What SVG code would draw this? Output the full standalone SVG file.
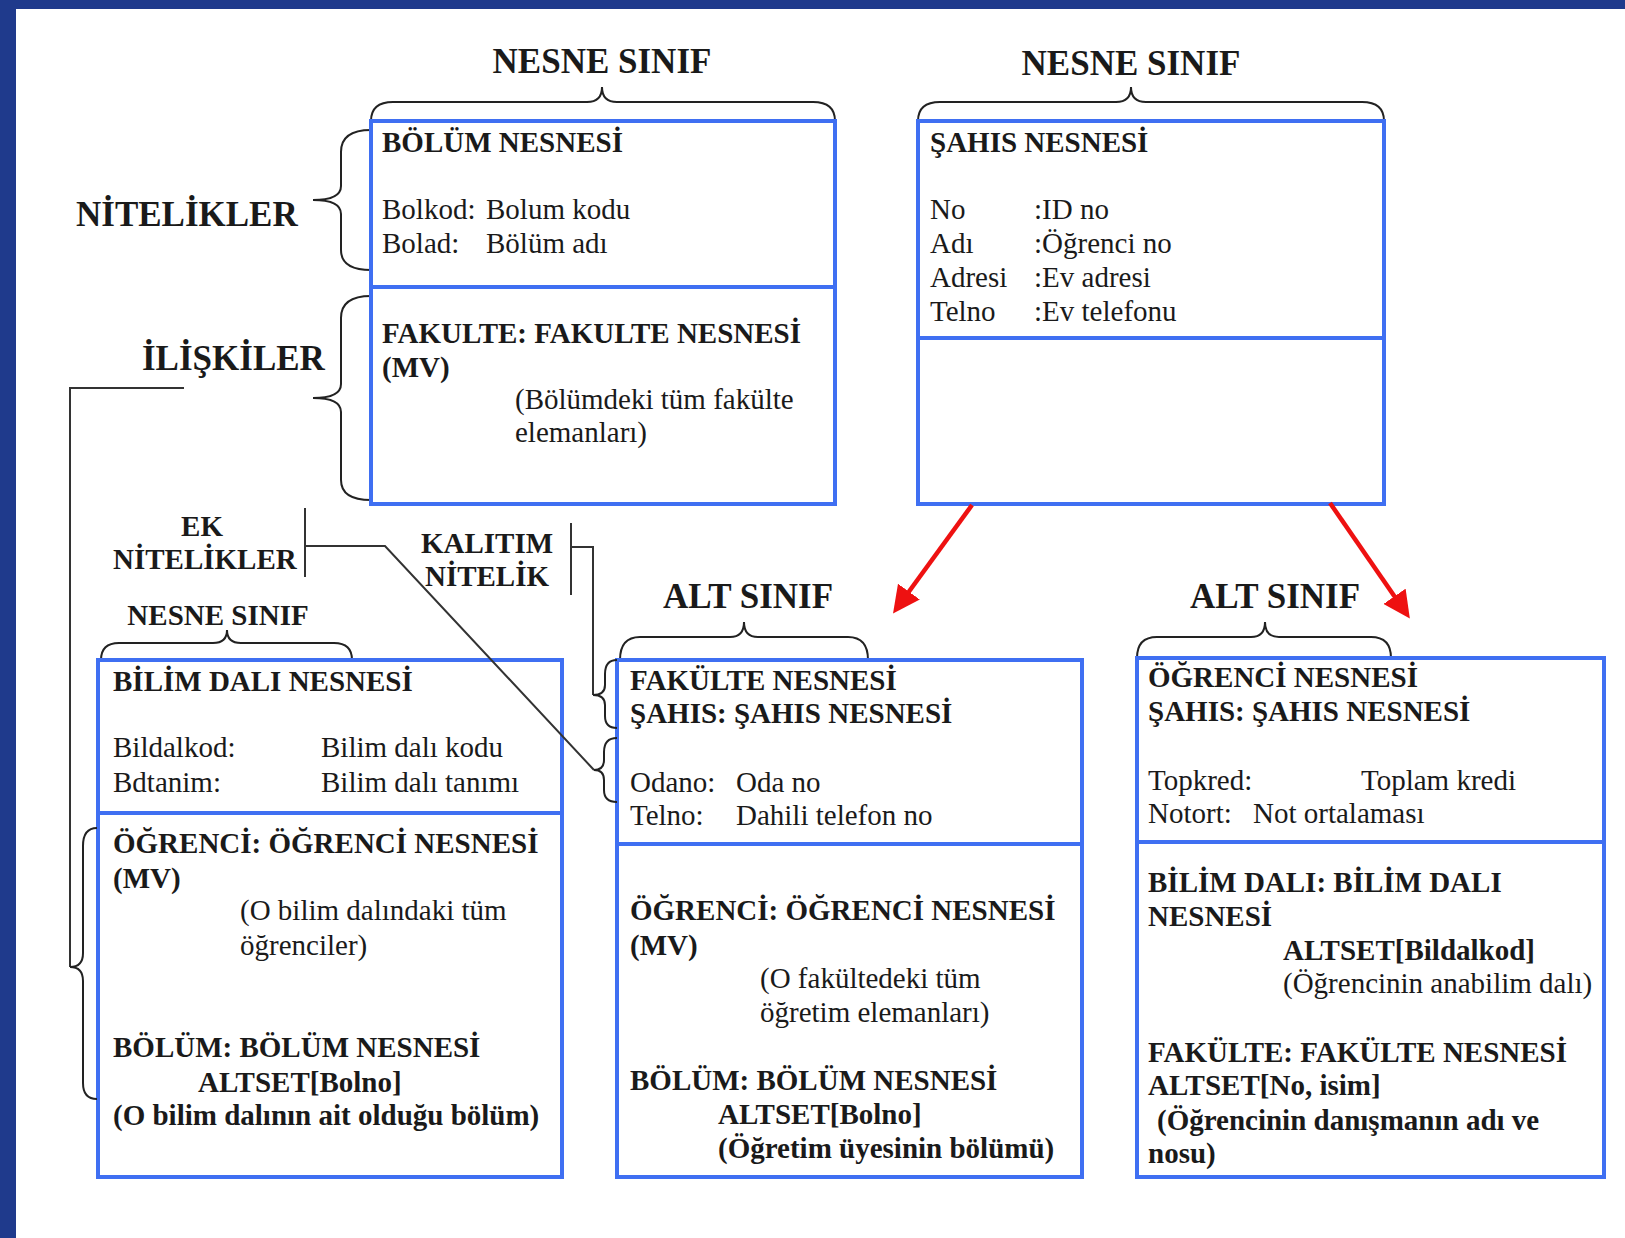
<svg xmlns="http://www.w3.org/2000/svg" width="1625" height="1238" viewBox="0 0 1625 1238">
<style>
text{font-family:"Liberation Serif","Times New Roman",serif;fill:#1a1a1a}
.b{font-size:29px;font-weight:bold}
.r{font-size:29px}
.t35{font-size:35px;font-weight:bold}
.t29{font-size:29px;font-weight:bold}
.box{fill:#fff;stroke:#3f6ff2;stroke-width:4}
.div{stroke:#3f6ff2;stroke-width:4}
.br{fill:none;stroke:#222;stroke-width:2}
.ln{fill:none;stroke:#333;stroke-width:2}
.red{fill:none;stroke:#ee1111;stroke-width:4.5}
</style>
<defs>
<marker id="ah" markerWidth="6" markerHeight="6" refX="4.5" refY="3" orient="auto" markerUnits="strokeWidth">
<path d="M0,0 L6,3 L0,6 z" fill="#ee1111"/>
</marker>
</defs>
<rect x="0" y="0" width="1625" height="1238" fill="#fff"/>
<rect x="0" y="0" width="1625" height="9" fill="#1f3a8c"/>
<rect x="0" y="0" width="16" height="1238" fill="#1f3a8c"/>

<g id="label-nesne-sinif-1">
<text class="t35" x="602" y="73" text-anchor="middle">NESNE SINIF</text>
<path class="br" d="M371,121 Q371,102 393,102 L587,102 Q602,102 602,87 Q602,102 617,102 L813,102 Q835,102 835,121"/>
</g>
<g id="label-nesne-sinif-2">
<text class="t35" x="1131" y="75" text-anchor="middle">NESNE SINIF</text>
<path class="br" d="M918,121 Q918,102 940,102 L1116,102 Q1131,102 1131,87 Q1131,102 1146,102 L1362,102 Q1384,102 1384,121"/>
</g>
<g id="label-nitelikler">
<text class="t35" x="76" y="226">NİTELİKLER</text>
<path class="br" d="M371,130 Q341,130 341,152 L341,186 Q341,200 313,200 Q341,200 341,214 L341,250 Q341,270 371,270"/>
</g>
<g id="label-iliskiler">
<text class="t35" x="142" y="370">İLİŞKİLER</text>
<path class="br" d="M371,296 Q341,296 341,318 L341,384 Q341,398 313,398 Q341,398 341,412 L341,480 Q341,500 371,500"/>
</g>
<g id="label-ek-nitelikler">
<text class="t29" x="202" y="536" text-anchor="middle">EK</text>
<text class="t29" x="113" y="569">NİTELİKLER</text>
</g>
<g id="label-kalitim-nitelik">
<text class="t29" x="487" y="553" text-anchor="middle">KALITIM</text>
<text class="t29" x="487" y="586" text-anchor="middle">NİTELİK</text>
</g>
<g id="label-nesne-sinif-3">
<text class="t29" x="218" y="625" text-anchor="middle">NESNE SINIF</text>
<path class="br" d="M101,660 Q101,643 119,643 L213,643 Q227,643 227,630 Q227,643 241,643 L334,643 Q352,643 352,660"/>
</g>
<g id="label-alt-sinif-1">
<text class="t35" x="748" y="608" text-anchor="middle">ALT SINIF</text>
<path class="br" d="M620,660 Q620,637 640,637 L730,637 Q744,637 744,622 Q744,637 758,637 L848,637 Q868,637 868,660"/>
</g>
<g id="label-alt-sinif-2">
<text class="t35" x="1275" y="608" text-anchor="middle">ALT SINIF</text>
<path class="br" d="M1137,658 Q1137,637 1157,637 L1251,637 Q1265,637 1265,622 Q1265,637 1279,637 L1371,637 Q1391,637 1391,658"/>
</g>

<g id="node-bolum">
<rect class="box" x="371" y="121" width="464" height="383"/>
<line class="div" x1="371" y1="287" x2="835" y2="287"/>
<text class="b" x="382" y="152">BÖLÜM NESNESİ</text>
<text class="r" x="382" y="219">Bolkod:</text><text class="r" x="486" y="219">Bolum kodu</text>
<text class="r" x="382" y="253">Bolad:</text><text class="r" x="486" y="253">Bölüm adı</text>
<text class="b" x="382" y="343">FAKULTE: FAKULTE NESNESİ</text>
<text class="b" x="382" y="377">(MV)</text>
<text class="r" x="515" y="409">(Bölümdeki tüm fakülte</text>
<text class="r" x="515" y="442">elemanları)</text>
</g>

<g id="node-sahis">
<rect class="box" x="918" y="121" width="466" height="383"/>
<line class="div" x1="918" y1="338" x2="1384" y2="338"/>
<text class="b" x="930" y="152">ŞAHIS NESNESİ</text>
<text class="r" x="930" y="219">No</text><text class="r" x="1034" y="219">:ID no</text>
<text class="r" x="930" y="253">Adı</text><text class="r" x="1034" y="253">:Öğrenci no</text>
<text class="r" x="930" y="287">Adresi</text><text class="r" x="1034" y="287">:Ev adresi</text>
<text class="r" x="930" y="321">Telno</text><text class="r" x="1034" y="321">:Ev telefonu</text>
</g>

<g id="node-bilim-dali">
<rect class="box" x="98" y="660" width="464" height="517"/>
<line class="div" x1="98" y1="813" x2="562" y2="813"/>
<text class="b" x="113" y="691">BİLİM DALI NESNESİ</text>
<text class="r" x="113" y="757">Bildalkod:</text><text class="r" x="321" y="757">Bilim dalı kodu</text>
<text class="r" x="113" y="792">Bdtanim:</text><text class="r" x="321" y="792">Bilim dalı tanımı</text>
<text class="b" x="113" y="853">ÖĞRENCİ: ÖĞRENCİ NESNESİ</text>
<text class="b" x="113" y="888">(MV)</text>
<text class="r" x="240" y="920">(O bilim dalındaki tüm</text>
<text class="r" x="240" y="955">öğrenciler)</text>
<text class="b" x="113" y="1057">BÖLÜM: BÖLÜM NESNESİ</text>
<text class="b" x="198" y="1092">ALTSET[Bolno]</text>
<text class="b" x="113" y="1125">(O bilim dalının ait olduğu bölüm)</text>
</g>

<g id="node-fakulte">
<rect class="box" x="617" y="660" width="465" height="517"/>
<line class="div" x1="617" y1="844" x2="1082" y2="844"/>
<text class="b" x="630" y="690">FAKÜLTE NESNESİ</text>
<text class="b" x="630" y="723">ŞAHIS: ŞAHIS NESNESİ</text>
<text class="r" x="630" y="792">Odano:</text><text class="r" x="736" y="792">Oda no</text>
<text class="r" x="630" y="825">Telno:</text><text class="r" x="736" y="825">Dahili telefon no</text>
<text class="b" x="630" y="920">ÖĞRENCİ: ÖĞRENCİ NESNESİ</text>
<text class="b" x="630" y="955">(MV)</text>
<text class="r" x="760" y="988">(O fakültedeki tüm</text>
<text class="r" x="760" y="1022">öğretim elemanları)</text>
<text class="b" x="630" y="1090">BÖLÜM: BÖLÜM NESNESİ</text>
<text class="b" x="718" y="1124">ALTSET[Bolno]</text>
<text class="b" x="718" y="1158">(Öğretim üyesinin bölümü)</text>
</g>

<g id="node-ogrenci">
<rect class="box" x="1137" y="658" width="467" height="519"/>
<line class="div" x1="1137" y1="842" x2="1604" y2="842"/>
<text class="b" x="1148" y="687">ÖĞRENCİ NESNESİ</text>
<text class="b" x="1148" y="721">ŞAHIS: ŞAHIS NESNESİ</text>
<text class="r" x="1148" y="790">Topkred:</text><text class="r" x="1361" y="790">Toplam kredi</text>
<text class="r" x="1148" y="823">Notort:</text><text class="r" x="1253" y="823">Not ortalaması</text>
<text class="b" x="1148" y="892">BİLİM DALI: BİLİM DALI</text>
<text class="b" x="1148" y="926">NESNESİ</text>
<text class="b" x="1283" y="960">ALTSET[Bildalkod]</text>
<text class="r" x="1283" y="993">(Öğrencinin anabilim dalı)</text>
<text class="b" x="1148" y="1062">FAKÜLTE: FAKÜLTE NESNESİ</text>
<text class="b" x="1148" y="1095">ALTSET[No, isim]</text>
<text class="b" x="1157" y="1130">(Öğrencinin danışmanın adı ve</text>
<text class="b" x="1148" y="1163">nosu)</text>
</g>

<g id="connectors">
<path class="ln" d="M184,388 L70,388 L70,967"/>
<path class="br" d="M97,828 Q83,828 83,846 L83,953 Q83,967 70,967 Q83,967 83,981 L83,1083 Q83,1099 97,1099"/>
<line class="ln" x1="305" y1="508" x2="305" y2="577"/>
<path class="ln" d="M305,546 L385,546 L594,770"/>
<path class="br" d="M617,738 Q604,738 604,752 L604,760 Q604,770 594,770 Q604,770 604,780 L604,790 Q604,802 617,802"/>
<line class="ln" x1="571" y1="523" x2="571" y2="595"/>
<path class="ln" d="M571,547 L593,547 L593,695"/>
<path class="br" d="M617,660 Q605,660 605,674 L605,685 Q605,695 593,695 Q605,695 605,705 L605,716 Q605,728 617,728"/>
<line class="red" x1="972" y1="505" x2="897" y2="608" marker-end="url(#ah)"/>
<line class="red" x1="1330" y1="503" x2="1406" y2="613" marker-end="url(#ah)"/>
</g>
</svg>
